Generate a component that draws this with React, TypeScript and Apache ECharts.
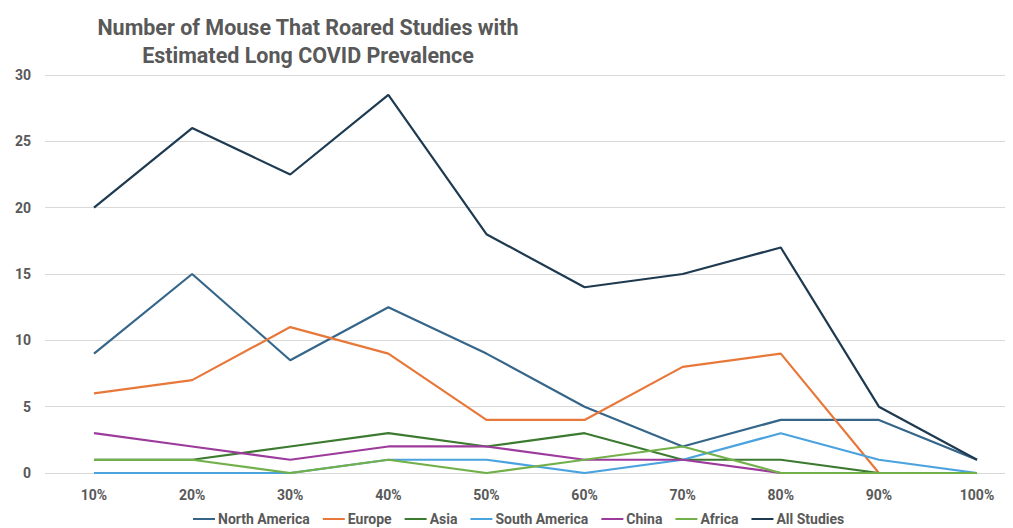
import React, { useEffect, useRef } from "react";
import * as echarts from "echarts";

const categories = ["10%", "20%", "30%", "40%", "50%", "60%", "70%", "80%", "90%", "100%"];
const northAmerica = [9, 15, 8.5, 12.5, 9, 5, 2, 4, 4, 1];
const europe = [6, 7, 11, 9, 4, 4, 8, 9, 0, 0];
const asia = [1, 1, 2, 3, 2, 3, 1, 1, 0, 0];
const southAmerica = [0, 0, 0, 1, 1, 0, 1, 3, 1, 0];
const china = [3, 2, 1, 2, 2, 1, 1, 0, 0, 0];
const africa = [1, 1, 0, 1, 0, 1, 2, 0, 0, 0];
const allStudies = [20, 26, 22.5, 28.5, 18, 14, 15, 17, 5, 1];

const seriesDefs = [
  { name: "North America", data: northAmerica, color: "#35668a" },
  { name: "Europe", data: europe, color: "#e8783a" },
  { name: "Asia", data: asia, color: "#3b7a2f" },
  { name: "South America", data: southAmerica, color: "#4aa3df" },
  { name: "China", data: china, color: "#9c3b9c" },
  { name: "Africa", data: africa, color: "#72b04a" },
  { name: "All Studies", data: allStudies, color: "#1e3a50" },
];

const FONT = "'Roboto', 'Liberation Sans', sans-serif";

export default function App() {
  const ref = useRef<HTMLDivElement>(null);
  useEffect(() => {
    if (!ref.current) return;
    const chart = echarts.init(ref.current, null, { renderer: "svg" });
    chart.setOption({
      animation: false,
      backgroundColor: "#ffffff",
      title: {
        text: "Number of Mouse That Roared Studies with\nEstimated Long COVID Prevalence",
        left: 303,
        top: 8,
        textAlign: "center",
        textStyle: {
          fontFamily: FONT,
          fontSize: 21.5,
          fontWeight: "bold",
          color: "#595959",
          lineHeight: 28,
        },
      },
      legend: {
        top: 507,
        left: 188,
        itemWidth: 22,
        itemHeight: 2,
        itemGap: 13,
        icon: "rect",
        textStyle: { fontFamily: FONT, fontSize: 14, fontWeight: "bold", color: "#595959", padding: [0, 0, 0, -2] },
        data: seriesDefs.map((s) => s.name),
      },
      grid: [
        { left: 94, right: 36, top: 75, bottom: 55, containLabel: false },
        { left: 45, right: 8, top: 75, bottom: 55, containLabel: false },
      ],
      xAxis: [
        {
          type: "category",
          gridIndex: 0,
          data: categories,
          boundaryGap: false,
          axisLine: { show: false },
          axisTick: { show: false },
          axisLabel: {
            margin: 15,
            fontFamily: FONT,
            fontSize: 14,
            fontWeight: "bold",
            color: "#595959",
          },
        },
        {
          type: "category",
          gridIndex: 1,
          data: categories,
          show: false,
        },
      ],
      yAxis: [
        {
          type: "value",
          gridIndex: 0,
          min: 0,
          max: 30,
          interval: 5,
          axisLabel: { show: false },
          splitLine: { show: false },
          axisLine: { show: false },
          axisTick: { show: false },
        },
        {
          type: "value",
          gridIndex: 1,
          min: 0,
          max: 30,
          interval: 5,
          axisLabel: {
            margin: 14,
            fontFamily: FONT,
            fontSize: 14,
            fontWeight: "bold",
            color: "#595959",
          },
          splitLine: { show: true, lineStyle: { color: "#d9d9d9", width: 1 } },
          axisLine: { show: false },
          axisTick: { show: false },
        },
      ],
      series: seriesDefs.map((s) => ({
        name: s.name,
        type: "line",
        xAxisIndex: 0,
        yAxisIndex: 0,
        data: s.data,
        symbol: "none",
        color: s.color,
        lineStyle: { width: 2.2, color: s.color },
      })),
    });
    return () => chart.dispose();
  }, []);
  return (
    <div
      ref={ref}
      style={{ position: "absolute", left: 0, top: 0, width: 1013, height: 528 }}
    />
  );
}
